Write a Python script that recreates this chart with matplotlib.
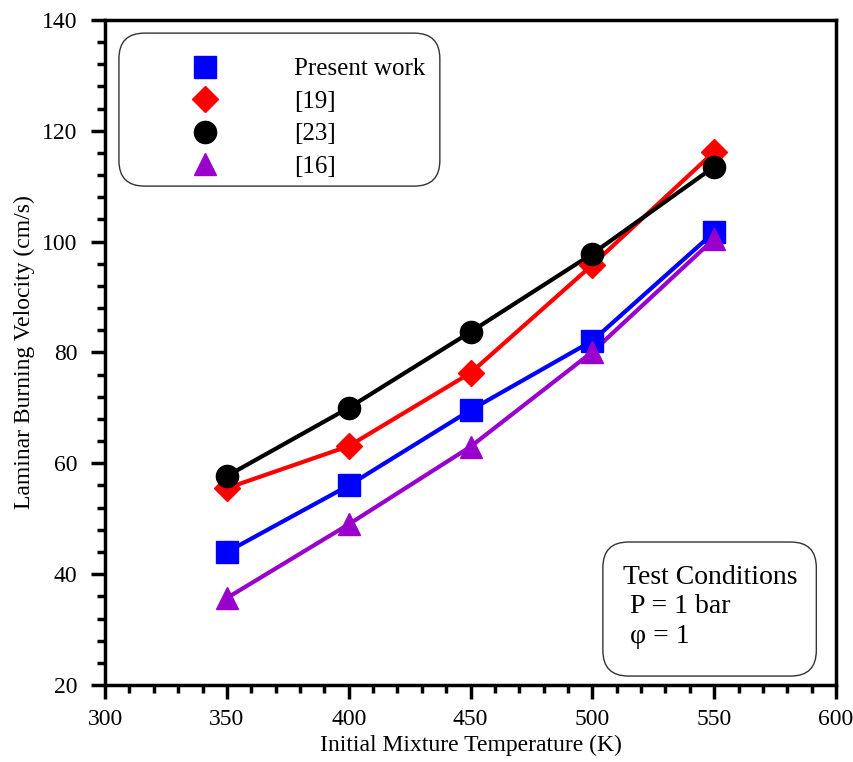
import numpy as np
import matplotlib
matplotlib.use("Agg")
import matplotlib.pyplot as plt
from matplotlib.patches import FancyBboxPatch
from matplotlib.ticker import MultipleLocator

plt.rcParams['font.family'] = ['Liberation Serif', 'DejaVu Serif']

temps = [350, 400, 450, 500, 550]
present = [44.0, 56.0, 69.6, 82.1, 101.7]
ref19 = [55.5, 63.1, 76.3, 95.8, 116.2]
ref23 = [57.7, 70.0, 83.7, 97.8, 113.5]
ref16 = [35.7, 49.0, 63.0, 80.1, 100.5]
labels = ["Present work", "[19]", "[23]", "[16]"]
colors = ["#0000ff", "#ff0000", "#000000", "#9900cc"]
markers = ["s", "D", "o", "^"]
msizes = [16, 13, 16, 16]

fig = plt.figure(figsize=(8.54, 7.62), dpi=100)
ax = fig.add_axes([0.123, 0.101, 0.856, 0.873])

series = [present, ref19, ref23, ref16]
handles = []
for s, c, m, ms, lab in zip(series, colors, markers, msizes, labels):
    ax.plot(temps, s, color=c, lw=3, zorder=2, solid_joinstyle='round')
    h, = ax.plot(temps, s, linestyle='none', marker=m, color=c, markersize=ms,
                 zorder=3, label=lab)
    handles.append(h)

ax.set_xlim(300, 600)
ax.set_ylim(20, 140)
ax.xaxis.set_major_locator(MultipleLocator(50))
ax.xaxis.set_minor_locator(MultipleLocator(10))
ax.yaxis.set_major_locator(MultipleLocator(20))
ax.yaxis.set_minor_locator(MultipleLocator(4))
for sp in ax.spines.values():
    sp.set_linewidth(2.5)
ax.tick_params(which='major', direction='out', length=10, width=2.5, labelsize=17)
ax.tick_params(axis='x', which='major', pad=7)
ax.tick_params(axis='y', which='major', pad=10)
ax.tick_params(which='minor', direction='out', length=6, width=2.5)
ax.set_xlabel("Initial Mixture Temperature (K)", fontsize=17, labelpad=4)
ax.set_ylabel("Laminar Burning Velocity (cm/s)", fontsize=17, labelpad=5)

asp = 731 / 665
box1 = FancyBboxPatch((0.019, 0.750), 0.439, 0.230, transform=ax.transAxes,
                      boxstyle='round,pad=0,rounding_size=0.035', mutation_aspect=asp,
                      fc='white', ec='#333333', lw=1.0, zorder=4)
ax.add_patch(box1)
leg = ax.legend(handles=handles, loc='upper left', bbox_to_anchor=(0.089, 0.958),
                frameon=False, fontsize=18, handletextpad=2.56, handlelength=2.0,
                labelspacing=0.4, borderpad=0.4, borderaxespad=0)
leg.set_zorder(5)

box2 = FancyBboxPatch((0.681, 0.0135), 0.292, 0.2015, transform=ax.transAxes,
                      boxstyle='round,pad=0,rounding_size=0.035', mutation_aspect=asp,
                      fc='white', ec='#333333', lw=1.0, zorder=4)
ax.add_patch(box2)
ax.text(0.709, 0.181, "Test Conditions\n P = 1 bar\n φ = 1", transform=ax.transAxes,
        fontsize=20, ha='left', va='top', linespacing=1.24, zorder=5)

fig.savefig("out.png", dpi=100)
